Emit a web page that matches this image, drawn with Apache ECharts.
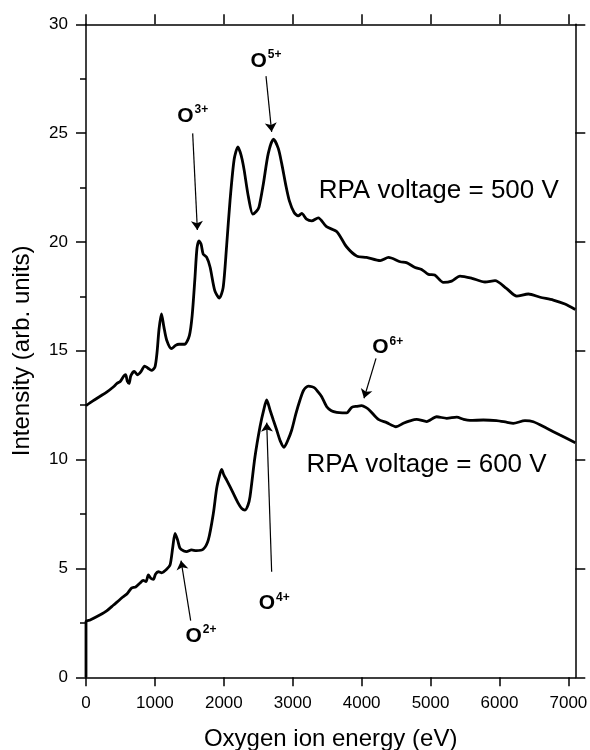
<!DOCTYPE html>
<html>
<head>
<meta charset="utf-8">
<script src="https://cdn.jsdelivr.net/npm/echarts@6/dist/echarts.min.js"></script>
<style>html,body{margin:0;padding:0;background:#fff}#c{width:590px;height:750px}</style>
</head>
<body>
<div id="c"></div>
<script>
// ---- data ----
const energy500 = [0,100,200,300,400,450,500,550,575,600,625,650,700,750,800,850,900,950,1000,1030,1060,1095,1130,1170,1240,1300,1350,1430,1500,1540,1580,1610,1640,1670,1700,1750,1800,1870,1935,1990,2040,2090,2150,2205,2240,2265,2295,2355,2420,2470,2510,2575,2645,2720,2790,2840,2900,2950,3020,3080,3130,3200,3275,3370,3490,3640,3780,3930,4070,4270,4390,4560,4650,4775,4870,4970,5060,5185,5306,5427,5600,5790,5935,6100,6250,6420,6590,6780,6950,7100];
const intensity500 = [12.48,12.7,12.9,13.1,13.35,13.5,13.6,13.85,13.9,13.6,13.5,13.85,14.05,13.9,14.05,14.3,14.2,14.1,14.25,14.9,16.0,16.7,16.1,15.5,15.1,15.25,15.3,15.3,15.7,16.6,18.3,19.7,20.05,19.9,19.45,19.3,18.85,17.75,17.42,17.9,19.8,21.9,23.8,24.37,24.1,23.8,23.3,22.1,21.28,21.4,21.6,22.7,24.07,24.72,24.3,23.6,22.6,21.9,21.35,21.2,21.31,21.05,20.97,21.11,20.7,20.47,19.78,19.35,19.29,19.14,19.29,19.09,19.05,18.83,18.74,18.51,18.48,18.14,18.2,18.43,18.33,18.16,18.22,17.87,17.51,17.61,17.46,17.33,17.15,16.9];

const energy600 = [0,0,60,200,300,400,540,600,660,720,780,830,870,905,940,977,1010,1050,1100,1170,1220,1260,1292,1330,1364,1420,1460,1530,1600,1700,1775,1848,1896,1940,1968,2000,2041,2138,2210,2260,2307,2350,2380,2452,2525,2580,2622,2670,2718,2767,2820,2873,2930,2985,3045,3105,3160,3226,3280,3323,3370,3420,3493,3560,3638,3720,3783,3856,3930,4000,4060,4121,4242,4363,4498,4605,4700,4798,4943,5088,5234,5379,5480,5572,5766,5959,6100,6200,6370,6491,6685,6878,7100];
const intensity600 = [0,2.55,2.63,2.86,3.05,3.32,3.70,3.85,4.1,4.15,4.32,4.45,4.4,4.7,4.55,4.5,4.75,4.85,4.8,4.96,5.16,6.0,6.61,6.3,5.93,5.8,5.77,5.85,5.82,5.88,6.31,7.53,8.68,9.3,9.55,9.3,9.06,8.45,7.99,7.75,7.68,7.9,8.3,10.13,11.51,12.3,12.74,12.28,11.82,11.36,10.85,10.57,10.9,11.36,12.1,12.74,13.2,13.38,13.35,13.28,13.1,12.89,12.43,12.25,12.17,12.15,12.15,12.4,12.45,12.48,12.4,12.25,11.85,11.7,11.51,11.67,11.78,11.85,11.75,11.97,11.9,11.95,11.85,11.8,11.82,11.79,11.72,11.67,11.79,11.74,11.44,11.13,10.78];

const xTickValues = [0,1000,2000,3000,4000,5000,6000,7000];
const xMin = 0, xMax = 7100;
const yMin = 0, yMax = 30, yStep = 5;

// ion annotations: label text, label anchor (left edge, middle), arrow tail and arrow head
const ionCharge = ['2+','3+','4+','5+','6+'];
const ionLabelX = [1436,1316,2500,2380,4145];
const ionLabelY = [1.91,25.78,3.40,28.32,15.15];
const arrowFromX = [1519,1548,2694,2612,4208];
const arrowFromY = [2.6,24.99,4.85,27.62,14.65];
const arrowToX = [1379,1616,2622,2694,4034];
const arrowToY = [5.36,20.55,11.70,25.06,12.82];

const curveLabels = ['RPA voltage = 500 V','RPA voltage = 600 V'];
const curveLabelX = [3369,3192];
const curveLabelY = [22.35,9.75];

// ---- chart ----
const FONT = 'Liberation Sans, Arial, Helvetica, sans-serif';
const zip = (a,b) => a.map((v,i)=>[v,b[i]]);
const axisLine = {show:true, onZero:false, lineStyle:{color:'#000', width:1.5}};
const tickStyle = {color:'#000', width:1.5};
const plain = v => String(v);

const chart = echarts.init(document.getElementById('c'), null, {renderer:'canvas'});
chart.setOption({
  animation:false,
  backgroundColor:'#fff',
  grid:{left:86, right:14.7, top:24.3, bottom:72.7, containLabel:false, outerBoundsMode:'none'},
  xAxis:[{
    type:'value', position:'bottom', min:xMin, max:xMax, interval:1000,
    axisLine:axisLine,
    axisTick:{show:true, inside:false, length:9, lineStyle:tickStyle, customValues:xTickValues},
    axisLabel:{show:true, customValues:xTickValues, formatter:plain, margin:18, color:'#000', fontSize:17, fontFamily:FONT},
    splitLine:{show:false},
    name:'Oxygen ion energy (eV)', nameLocation:'middle', nameGap:50,
    nameTextStyle:{color:'#000', fontSize:24, fontFamily:FONT}
  },{
    type:'value', position:'top', min:xMin, max:xMax, interval:1000,
    axisLine:axisLine,
    axisTick:{show:true, inside:false, length:10, lineStyle:tickStyle, customValues:xTickValues},
    axisLabel:{show:false}, splitLine:{show:false}
  }],
  yAxis:[{
    type:'value', position:'left', min:yMin, max:yMax, interval:yStep,
    axisLine:axisLine,
    axisTick:{show:true, inside:false, length:10, lineStyle:tickStyle},
    minorTick:{show:true, splitNumber:2, length:6, lineStyle:tickStyle},
    axisLabel:{margin:18, formatter:plain, color:'#000', fontSize:17, fontFamily:FONT},
    splitLine:{show:false}, minorSplitLine:{show:false},
    name:'Intensity (arb. units)', nameLocation:'middle', nameGap:52,
    nameTextStyle:{color:'#000', fontSize:24, fontFamily:FONT}
  },{
    type:'value', position:'right', min:yMin, max:yMax, interval:yStep,
    axisLine:axisLine,
    axisTick:{show:true, inside:false, length:10, lineStyle:tickStyle},
    axisLabel:{show:false}, splitLine:{show:false}
  }],
  series:[{
    name:'500 V', type:'line', xAxisIndex:0, yAxisIndex:0,
    data:zip(energy500,intensity500), showSymbol:false, symbol:'none', smooth:0.25,
    lineStyle:{color:'#000', width:2.8}, silent:true
  },{
    name:'600 V', type:'line', xAxisIndex:0, yAxisIndex:0,
    data:zip(energy600,intensity600), showSymbol:false, symbol:'none', smooth:0.25,
    lineStyle:{color:'#000', width:2.8}, silent:true
  },{
    name:'ions', type:'scatter', xAxisIndex:0, yAxisIndex:0, silent:true,
    symbolSize:1, itemStyle:{color:'rgba(0,0,0,0)', opacity:1},
    data:ionCharge.map((c,i)=>({value:[ionLabelX[i], ionLabelY[i]], charge:c})),
    label:{show:true, position:'right', distance:0,
      formatter:p=>'{o|O}{s|'+p.data.charge+'}',
      rich:{
        o:{fontSize:21, fontWeight:'bold', color:'#000', fontFamily:FONT, lineHeight:24, verticalAlign:'middle'},
        s:{fontSize:12, fontWeight:'bold', color:'#000', fontFamily:FONT, lineHeight:14, verticalAlign:'top', padding:[0,0,0,1]}
      }},
    markLine:{
      silent:true, symbol:['none','arrow'], symbolSize:9,
      lineStyle:{color:'#000', width:1.2, type:'solid', opacity:1},
      itemStyle:{color:'#000'},
      label:{show:false}, emphasis:{disabled:true},
      data:arrowFromX.map((x,i)=>[{coord:[x, arrowFromY[i]]},{coord:[arrowToX[i], arrowToY[i]]}])
    }
  },{
    name:'curveLabels', type:'scatter', xAxisIndex:0, yAxisIndex:0, silent:true,
    symbolSize:1, itemStyle:{color:'rgba(0,0,0,0)', opacity:1},
    data:curveLabels.map((t,i)=>({value:[curveLabelX[i], curveLabelY[i]], txt:t})),
    label:{show:true, position:'right', distance:0, formatter:p=>p.data.txt,
      color:'#000', fontSize:26, fontFamily:FONT}
  }]
});
</script>
</body>
</html>
